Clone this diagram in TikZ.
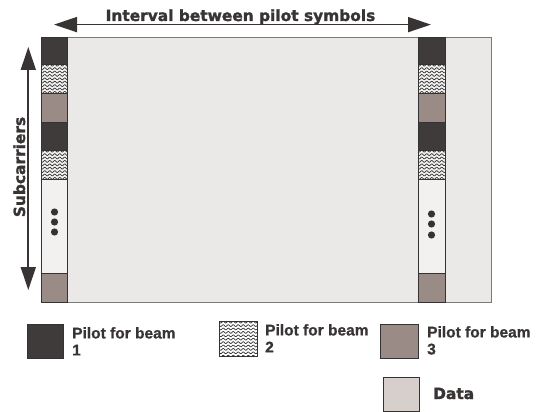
\documentclass[tikz,border=0pt]{standalone}
\usepackage{fontspec}
\setmainfont{Liberation Sans}[BoldFeatures={FakeBold=0.8}]
\newfontfamily\heavyfont{DejaVu Sans}[BoldFeatures={FakeBold=1.6}]
\usetikzlibrary{arrows.meta}
\definecolor{darkc}{HTML}{3F3B3B}
\definecolor{brownc}{HTML}{9A8B86}
\definecolor{datac}{HTML}{EBE9E7}
\definecolor{whitec}{HTML}{F2F1F0}
\definecolor{legdata}{HTML}{D6CFCC}
\definecolor{edgec}{HTML}{333333}
\definecolor{framec}{HTML}{7A7A7A}
\definecolor{textc}{HTML}{383434}
\tikzset{
  cell/.style={draw=edgec, line width=0.6pt, inner sep=0pt, outer sep=0pt, anchor=north west},
  wave/.style={line width=0.7pt, draw=edgec},
  bigarrow/.style={line width=1.8pt, draw=textc, {Triangle[length=23pt,width=15pt]}-{Triangle[length=23pt,width=15pt]}},
  legtext/.style={font=\bfseries\fontsize{15.5}{17}\selectfont, text=textc, inner sep=0pt, align=left, anchor=north west},
  heavytext/.style={font=\heavyfont\bfseries\fontsize{15.4}{17}\selectfont, text=textc, inner sep=0pt},
}
\newcommand\wavefill[4]{% x y w h
  \begin{scope}
    \clip (#1,#2) rectangle ({#1+#3},{#2+#4});
    \pgfmathsetmacro\nlines{int(#4/3.4)+1}
    \foreach \k in {0,...,\nlines}{
      \draw[wave] plot[domain=0:#3, samples=60, smooth] ({#1+\x}, {#2+1.2+\k*3.4+0.9*sin(\x*72)});
    }
  \end{scope}
}
\begin{document}
\begin{tikzpicture}[x=1pt,y=-1pt]
\useasboundingbox (0,0) rectangle (536,412);
% frame
\node[cell, draw=framec, line width=0.8pt, fill=datac, minimum width=450pt, minimum height=265pt] (frame) at (41,37) {};
% left column
\node[cell, fill=darkc, minimum width=26pt, minimum height=27pt] (L1) at (41,37) {};
\node[cell, fill=whitec, minimum width=26pt, minimum height=29pt] (L2) at (41,64) {};
\wavefill{41}{64}{26}{29}
\node[cell, minimum width=26pt, minimum height=29pt] (L2b) at (41,64) {};
\node[cell, fill=brownc, minimum width=26pt, minimum height=29pt] (L3) at (41,93) {};
\node[cell, fill=darkc, minimum width=26pt, minimum height=28pt] (L4) at (41,122) {};
\node[cell, fill=whitec, minimum width=26pt, minimum height=29pt] (L5) at (41,150) {};
\wavefill{41}{150}{26}{29}
\node[cell, minimum width=26pt, minimum height=29pt] (L5b) at (41,150) {};
\node[cell, fill=whitec, minimum width=26pt, minimum height=94pt] (L6) at (41,179) {};
\node[cell, fill=brownc, minimum width=26pt, minimum height=29pt] (L7) at (41,273) {};
% right column
\node[cell, fill=darkc, minimum width=27pt, minimum height=27pt] (R1) at (418,37) {};
\node[cell, fill=whitec, minimum width=27pt, minimum height=29pt] (R2) at (418,64) {};
\wavefill{418}{64}{27}{29}
\node[cell, minimum width=27pt, minimum height=29pt] (R2b) at (418,64) {};
\node[cell, fill=brownc, minimum width=27pt, minimum height=29pt] (R3) at (418,93) {};
\node[cell, fill=darkc, minimum width=27pt, minimum height=28pt] (R4) at (418,122) {};
\node[cell, fill=whitec, minimum width=27pt, minimum height=29pt] (R5) at (418,150) {};
\wavefill{418}{150}{27}{29}
\node[cell, minimum width=27pt, minimum height=29pt] (R5b) at (418,150) {};
\node[cell, fill=whitec, minimum width=27pt, minimum height=94pt] (R6) at (418,179) {};
\node[cell, fill=brownc, minimum width=27pt, minimum height=29pt] (R7) at (418,273) {};
% dots
\foreach \yy in {212,222,232} \fill[edgec] (54.5,\yy) circle (3.6);
\foreach \yy in {214,224,235} \fill[edgec] (431.5,\yy) circle (3.6);
% arrows
\coordinate (ha) at (54,24.6);
\coordinate (hb) at (431,24.6);
\draw[bigarrow] (ha) -- (hb);
\coordinate (va) at (28.3,47);
\coordinate (vb) at (28.3,290);
\draw[bigarrow] (va) -- (vb);
\node[heavytext, anchor=base] (title) at (240.5,21) {Interval between pilot symbols};
\node[heavytext, rotate=90, anchor=base] (sub) at (25,167) {Subcarriers};
% legend
\node[cell, fill=darkc, minimum width=35.5pt, minimum height=34pt] (k1) at (27.5,324) {};
\node[legtext] (t1) at (72,327) {Pilot for beam\\1};
\node[cell, fill=white, minimum width=37.5pt, minimum height=35pt] (k2) at (219.5,321) {};
\wavefill{219.5}{321}{37.5}{35}
\node[cell, minimum width=37.5pt, minimum height=35pt] (k2b) at (219.5,321) {};
\node[legtext] (t2) at (265,324) {Pilot for beam\\2};
\node[cell, fill=brownc, minimum width=37.5pt, minimum height=34pt] (k3) at (380.5,324) {};
\node[legtext] (t3) at (427,326) {Pilot for beam\\3};
\node[cell, fill=legdata, minimum width=36pt, minimum height=34pt] (k4) at (383,377) {};
\node[heavytext, anchor=base west] (t4) at (433,399) {Data};
\end{tikzpicture}
\end{document}
